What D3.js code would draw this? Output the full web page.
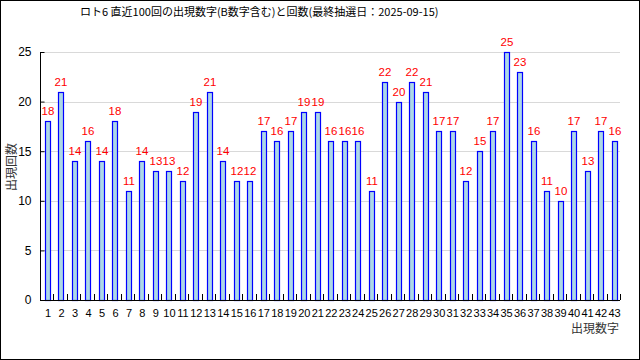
<!DOCTYPE html>
<html><head><meta charset="utf-8">
<script src="https://cdn.jsdelivr.net/npm/d3@7"></script>
<style>body{margin:0;background:#fff}svg{display:block}</style>
</head><body>
<svg id="c" width="640" height="360"></svg>
<script>
const numbers = d3.range(1, 44).map(String);
const counts = [18,21,14,16,14,18,11,14,13,13,12,19,21,14,12,12,17,16,17,19,19,16,16,16,11,22,20,22,21,17,17,12,15,17,25,23,16,11,10,17,13,17,16];
const yTicks = [0,5,10,15,20,25];
const titleText = "ロト6 直近100回の出現数字(B数字含む)と回数(最終抽選日：2025-09-15)";
const xTitle = "出現数字";
const yTitle = "出現回数";

const svg = d3.select("#c");
const L = 40, R = 620, T = 52, B = 300;
const x = d3.scaleBand().domain(numbers).range([L, R]).padding(0);
const y = d3.scaleLinear().domain([0, 25]).range([B, T]);
const step = x.step();
const font = "Liberation Sans, Arial, sans-serif";

svg.append("rect").attr("x",0.5).attr("y",0.5).attr("width",639).attr("height",359)
  .attr("fill","#fff").attr("stroke","#000");

// gridlines
svg.append("g").selectAll("line").data(yTicks.filter(d=>d>0)).join("line")
  .attr("x1", L+4).attr("x2", R).attr("y1", d=>Math.round(y(d))+0.5).attr("y2", d=>Math.round(y(d))+0.5)
  .attr("stroke","#d9d9d9");

// bars
const data = numbers.map((n,i)=>({n, v: counts[i]}));
svg.append("g").selectAll("rect").data(data).join("rect")
  .attr("x", d=>Math.round(x(d.n)+step*0.37)+0.5)
  .attr("y", d=>Math.round(y(d.v))+0.5)
  .attr("width", Math.round(step*0.37))
  .attr("height", d=>Math.round(B - y(d.v)))
  .attr("fill","#add8e6").attr("stroke","#0000ff").attr("stroke-width",1.2);

// value labels
svg.append("g").selectAll("text").data(data).join("text")
  .attr("x", d=>Math.round(x(d.n)+step*0.37)+3)
  .attr("y", d=>y(d.v)-6)
  .attr("text-anchor","middle")
  .attr("font-family",font).attr("font-size",11.5)
  .attr("fill","#ff0000").text(d=>d.v);

// y axis
const yAxis = d3.axisLeft(y).tickValues(yTicks).tickSize(-4).tickPadding(9);
const gy = svg.append("g").attr("transform",`translate(${L+0.5},0)`).call(yAxis);
gy.select(".domain").attr("d", `M0,${T}V${B}`).attr("stroke","#000");
gy.selectAll("text").attr("font-family",font).attr("font-size",12).attr("fill","#000");

// x axis
const xAxis = d3.axisBottom(x).tickSize(0).tickPadding(9);
const gx = svg.append("g").attr("transform",`translate(0,${B+0.5})`).call(xAxis);
gx.select(".domain").attr("d", `M${L},0H${R}`).attr("stroke","#000");
gx.selectAll(".tick text").attr("font-family",font).attr("font-size",11).attr("fill","#000")
  .attr("x", Math.round(step*0.37)+3 - step/2);
// boundary ticks pointing up
svg.append("g").selectAll("line").data(numbers.slice(1).concat(["end"])).join("line")
  .attr("x1", d=> d==="end" ? R+0.5 : Math.round(x(d))+0.5)
  .attr("x2", d=> d==="end" ? R+0.5 : Math.round(x(d))+0.5)
  .attr("y1", B-6).attr("y2", B).attr("stroke","#000");

// titles
svg.append("text").attr("x",80).attr("y",16)
  .attr("font-family","Noto Sans CJK JP, sans-serif").attr("font-size",11).attr("fill","#000").text(titleText);
svg.append("text").attr("x",619).attr("y",333).attr("text-anchor","end")
  .attr("font-family","Noto Sans CJK JP, sans-serif").attr("font-size",12).attr("fill","#333").text(xTitle);
svg.append("text").attr("transform","translate(16,167) rotate(-90)").attr("text-anchor","middle")
  .attr("font-family","Noto Sans CJK JP, sans-serif").attr("font-size",12).attr("fill","#333").text(yTitle);
</script>
</body></html>
